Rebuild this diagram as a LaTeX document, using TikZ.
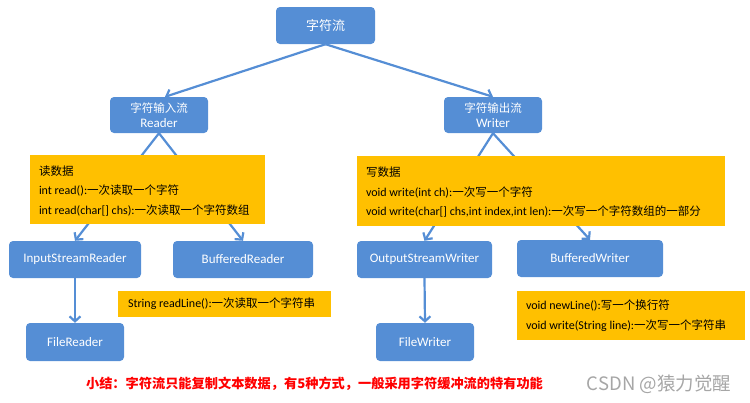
\documentclass[tikz,border=0pt]{standalone}
\usepackage{fontspec}
\setmainfont{Carlito}
\newfontfamily\cjk{Noto Sans CJK SC}
\newcommand{\zh}[1]{{\cjk\fontsize{11.5}{15}\selectfont #1}}
\usetikzlibrary{arrows.meta}
\definecolor{boxblue}{RGB}{85,142,213}
\definecolor{noteyellow}{RGB}{255,192,0}

\begin{document}
\begin{tikzpicture}[x=1pt,y=-1pt,
	blk/.style={fill=boxblue, text=white, rounded corners=4pt, align=center, inner sep=0pt,
		minimum height=37pt, font=\fontsize{13}{15}\selectfont},
	note/.style={fill=noteyellow, inner sep=0pt},
	notetext/.style={anchor=west, inner sep=0pt, align=left, font=\fontsize{12}{19.5}\selectfont},
	link/.style={draw=boxblue, line width=2.2pt, -{Straight Barb[length=5pt,width=11pt]}}]
	\useasboundingbox (0,0) rectangle (750,402);
	% top levels
	\node[blk, minimum width=99pt] (stream) at (325.5,25.5) {{\cjk 字符流}};
	\node[blk, minimum width=98pt, minimum height=36pt] (reader) at (159,115) {\zh{字符输入流}\\Reader};
	\node[blk, minimum width=98pt, minimum height=36pt] (writer) at (493,115) {\zh{字符输出流}\\Writer};
	% concrete classes
	\node[blk, minimum width=132pt] (isr) at (75,259.5) {InputStreamReader};
	\node[blk, minimum width=140pt] (bfr) at (243,259.5) {BufferedReader};
	\node[blk, minimum width=135pt] (osw) at (424.5,259.5) {OutputStreamWriter};
	\node[blk, minimum width=146pt] (bfw) at (590,258.5) {BufferedWriter};
	\node[blk, minimum width=98pt, minimum height=38pt] (fr) at (75,342) {FileReader};
	\node[blk, minimum width=98pt, minimum height=38pt] (fw) at (425,342) {FileWriter};
	% arrows
	\draw[link] (stream.south) -- ([xshift=6pt]reader.north);
	\draw[link] (stream.south) -- (writer.north);
	\draw[link] (reader.south) -- (isr.north);
	\draw[link] (reader.south) -- (bfr.north);
	\draw[link] (writer.south) -- (osw.north);
	\draw[link] (writer.south) -- (bfw.north);
	\draw[link] (isr.south) -- (fr.north);
	\draw[link] (osw.south) -- (fw.north);
	% notes (drawn over the arrows)
	\node[note, minimum width=235pt, minimum height=69pt] (readnote) at (147.5,189.5) {};
	\node[notetext] (readtext) at ([xshift=9pt,yshift=-1pt]readnote.west)
		{\zh{读数据}\\int read():\zh{一次读取一个字符}\\int read(char[] chs):\zh{一次读取一个字符数组}};
	\node[note, minimum width=368pt, minimum height=70pt] (writenote) at (541,191) {};
	\node[notetext] (writetext) at ([xshift=9pt,yshift=-1pt]writenote.west)
		{\zh{写数据}\\void write(int ch):\zh{一次写一个字符}\\void write(char[] chs,int index,int len):\zh{一次写一个字符数组的一部分}};
	\node[note, minimum width=213pt, minimum height=26pt] (linenote) at (224.5,304) {};
	\node[notetext] (linetext) at ([xshift=10pt]linenote.west) {String readLine():\zh{一次读取一个字符串}};
	\node[note, minimum width=228pt, minimum height=49pt] (newlinenote) at (631,315.5) {};
	\node[notetext, font=\fontsize{12}{20}\selectfont] (newlinetext) at ([xshift=9pt]newlinenote.west)
		{void newLine():\zh{写一个换行符}\\void write(String line):\zh{一次写一个字符串}};
	% summary
	\node[text=red, font=\cjk\bfseries\fontsize{13.2}{16}\selectfont] (summary) at (314.5,384)
		{小结：字符流只能复制文本数据，有5种方式，一般采用字符缓冲流的特有功能};
	\node[text=black!35, font=\cjk\fontsize{18.5}{20}\selectfont] (mark) at (659,384) {CSDN @猿力觉醒};
\end{tikzpicture}
\end{document}
